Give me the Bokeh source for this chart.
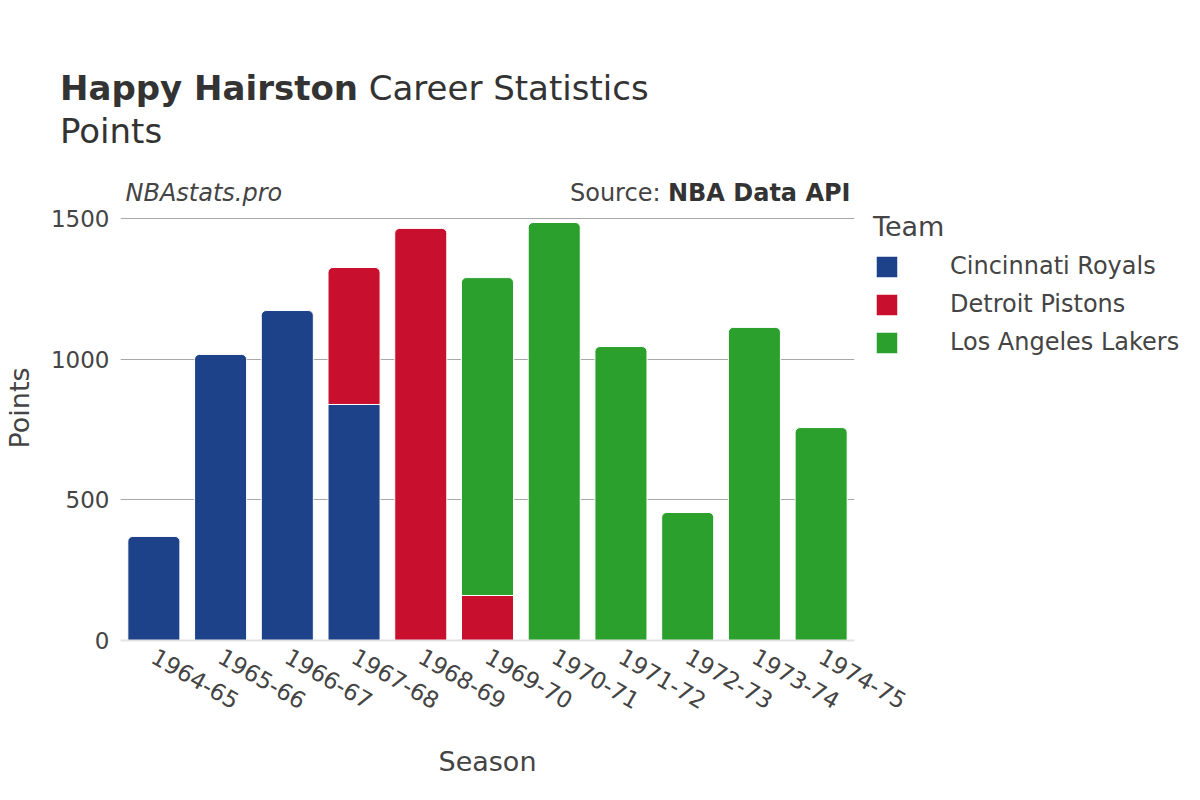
import math
from bokeh.plotting import figure
from bokeh.layouts import column
from bokeh.models import (ColumnDataSource, FactorRange, Range1d, Label, Legend, LegendItem,
                          FixedTicker, Div)
from bokeh.embed import file_html
from bokeh.resources import INLINE

seasons = ["1964-65", "1965-66", "1966-67", "1967-68", "1968-69", "1969-70",
           "1970-71", "1971-72", "1972-73", "1973-74", "1974-75"]
teams = ["Cincinnati Royals", "Detroit Pistons", "Los Angeles Lakers"]
colors = ["#1D428A", "#C8102E", "#2CA02C"]
cincinnati = [370, 1017, 1173, 839, 0, 0, 0, 0, 0, 0, 0]
detroit = [0, 0, 0, 487, 1465, 160, 0, 0, 0, 0, 0]
lakers = [0, 0, 0, 0, 0, 1130, 1486, 1045, 455, 1113, 757]
y_ticks = [0, 500, 1000, 1500]

series = [cincinnati, detroit, lakers]

FONT = "DejaVu Sans"
TXT = "#444444"
DARK = "#333333"

header = Div(
    text=('<div style="font-family: \'DejaVu Sans\'; font-size: 34px; line-height: 43px; '
          'color: #333333; padding-left: 60px; padding-top: 67px; white-space: nowrap;">'
          '<span style="font-weight: bold;">Happy Hairston</span> Career Statistics<br>'
          'Points</div>'),
    width=1184, height=150, margin=0)

p = figure(frame_width=734, frame_height=465,
           x_range=FactorRange(*seasons, range_padding=0),
           y_range=Range1d(0, 1653), output_backend="svg", toolbar_location=None,
           min_border_left=114, min_border_right=0, min_border_top=25,
           min_border_bottom=144, margin=0)
p.outline_line_color = None

n = len(seasons)
top_team = []
for i in range(n):
    t = None
    for k in range(len(teams)):
        if series[k][i] > 0:
            t = k
    top_team.append(t)

legend_items = []
for k, team in enumerate(teams):
    bottoms = [sum(series[j][i] for j in range(k)) for i in range(n)]
    tops = [bottoms[i] + series[k][i] for i in range(n)]
    top_x, top_b, top_t, mid_x, mid_b, mid_t = [], [], [], [], [], []
    for i in range(n):
        if series[k][i] <= 0:
            continue
        if top_team[i] == k:
            top_x.append(seasons[i]); top_b.append(bottoms[i]); top_t.append(tops[i])
        else:
            mid_x.append(seasons[i]); mid_b.append(bottoms[i]); mid_t.append(tops[i])
    r_top = p.vbar(x="x", bottom="b", top="t", width=0.78,
                   source=ColumnDataSource(dict(x=top_x, b=top_b, t=top_t)),
                   fill_color=colors[k], line_color="white", line_width=1,
                   border_radius=(5, 5, 0, 0))
    if mid_x:
        p.vbar(x="x", bottom="b", top="t", width=0.78,
               source=ColumnDataSource(dict(x=mid_x, b=mid_b, t=mid_t)),
               fill_color=colors[k], line_color="white", line_width=1)
    legend_items.append(LegendItem(label=team, renderers=[r_top]))

p.yaxis.ticker = FixedTicker(ticks=y_ticks)
p.ygrid.ticker = FixedTicker(ticks=y_ticks)
p.ygrid.grid_line_color = "#a8a8a8"
p.ygrid.grid_line_width = 1
p.xgrid.grid_line_color = None
p.yaxis.axis_line_color = None
p.yaxis.major_tick_line_color = None
p.yaxis.minor_tick_line_color = None
p.yaxis.major_label_text_font = FONT
p.yaxis.major_label_text_font_size = "23px"
p.yaxis.major_label_text_color = TXT
p.yaxis.major_label_standoff = 5
p.yaxis.axis_label = "Points"
p.yaxis.axis_label_text_font = FONT
p.yaxis.axis_label_text_font_size = "27px"
p.yaxis.axis_label_text_font_style = "normal"
p.yaxis.axis_label_text_color = TXT
p.yaxis.axis_label_standoff = 13

p.xaxis.axis_line_color = "#e4e4e4"
p.xaxis.axis_line_width = 2
p.xaxis.major_tick_line_color = None
p.xaxis.minor_tick_line_color = None
p.xaxis.major_label_orientation = -math.pi / 6
p.xaxis.major_label_text_font = FONT
p.xaxis.major_label_text_font_size = "23px"
p.xaxis.major_label_text_color = TXT
p.xaxis.major_label_standoff = 8
p.xaxis.axis_label = "Season"
p.xaxis.axis_label_text_font = FONT
p.xaxis.axis_label_text_font_size = "27px"
p.xaxis.axis_label_text_font_style = "normal"
p.xaxis.axis_label_text_color = TXT
p.xaxis.axis_label_standoff = 26


def lab(text, x, y, size, style="normal", align="left", color=DARK):
    p.add_layout(Label(x=x, y=y, x_units="screen", y_units="screen", text=text,
                       text_font=FONT, text_font_size=size, text_font_style=style,
                       text_align=align, text_baseline="middle", text_color=color))


lab("NBAstats.pro", 5, 448, "24px", "italic", color=TXT)
lab("NBA Data API", 730, 448, "24px", "bold", align="right")
lab("Source:", 540, 448, "24px", align="right", color=TXT)

legend = Legend(items=legend_items, location=(19, 284), title="Team",
                title_text_font=FONT, title_text_font_size="27px", title_text_color=TXT,
                title_text_font_style="normal", title_standoff=10,
                label_text_font=FONT, label_text_font_size="24px", label_text_color=TXT,
                glyph_width=27, glyph_height=27, label_height=24, label_standoff=50,
                spacing=10, padding=0, margin=0, border_line_color=None,
                background_fill_alpha=0)
p.add_layout(legend, "right")

layout = column(header, p, spacing=0)
html = file_html(layout, INLINE)
html = html.replace("</head>", "<style>html, body { overflow: hidden; }</style></head>", 1)
open("out.html", "w").write(html)
